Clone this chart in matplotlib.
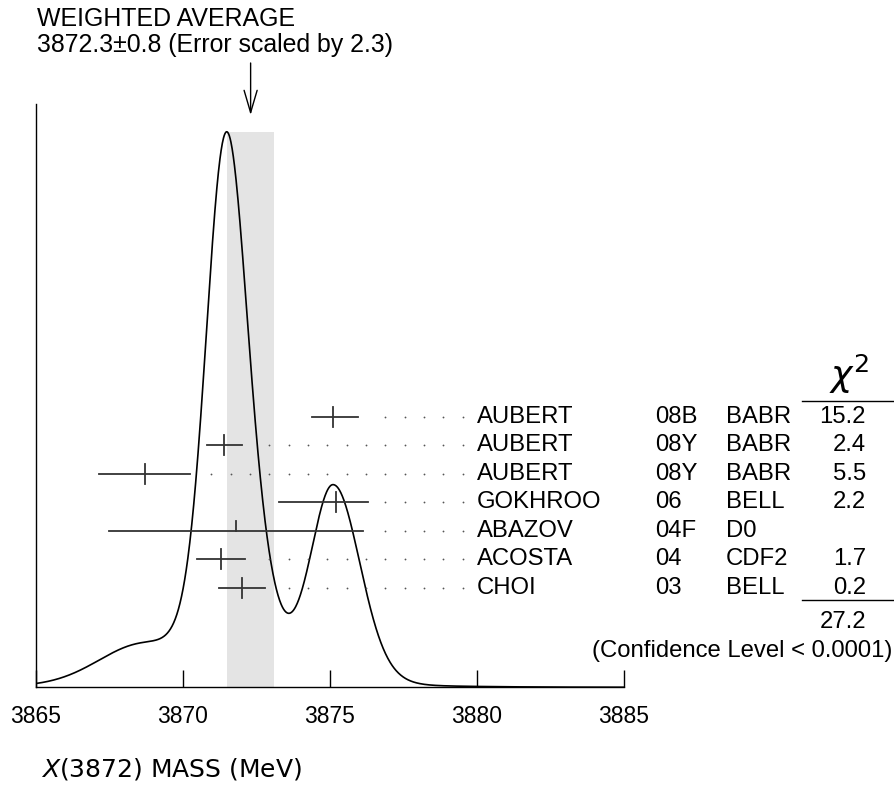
import numpy as np
import matplotlib
matplotlib.use('Agg')
import matplotlib.pyplot as plt
import matplotlib.transforms as mtransforms

plt.rcParams['font.family'] = ['Liberation Sans', 'DejaVu Sans']
plt.rcParams['mathtext.fontset'] = 'dejavusans'

#############################################################
# Measurements (X(3872) mass, MeV)
names = ['AUBERT', 'AUBERT', 'AUBERT', 'GOKHROO', 'ABAZOV', 'ACOSTA', 'CHOI']
years = ['08B', '08Y', '08Y', '06', '04F', '04', '03']
exps = ['BABR', 'BABR', 'BABR', 'BELL', 'D0', 'CDF2', 'BELL']
values = [3875.1, 3871.4, 3868.7, 3875.2, 3871.8, 3871.3, 3872.0]
err_lo = [0.71, 0.60, 1.55, 1.92, 4.31, 0.81, 0.78]
err_hi = [0.86, 0.60, 1.55, 1.10, 4.31, 0.81, 0.78]
chi2 = ['15.2', '2.4', '5.5', '2.2', '', '1.7', '0.2']
chi2_total = '27.2'
conf_level = '(Confidence Level < 0.0001)'

avg = 3872.3
avg_err = 0.8
err_scale = 2.3

xticks = [3865, 3870, 3875, 3880, 3885]

#############################################################
W, H = 895, 787
fig = plt.figure(figsize=(W / 100, H / 100), dpi=100)

def fx(px):
    return px / W

def fy(py):
    return 1 - py / H

ax_pos = [fx(36), fy(687.3), fx(588), 583.3 / H]
ax = fig.add_axes(ax_pos)

# ideogram: sum of (bifurcated) gaussians, area ~ 1/sigma
xg = np.linspace(3865, 3885, 1500)
ideo = np.zeros_like(xg)
for v, lo, hi in zip(values, err_lo, err_hi):
    s_mean = (lo + hi) / 2
    sig = np.where(xg < v, lo, hi)
    ideo += np.exp(-0.5 * ((xg - v) / sig) ** 2) / s_mean ** 2
ideo = ideo / ideo.max()

ax.fill_between([avg - avg_err, avg + avg_err], 0, 1, color='#e4e4e4', lw=0, zorder=0)
ax.plot(xg, ideo, color='black', lw=1.2, zorder=2)

ax.set_xlim(3865, 3885)
ax.set_ylim(0, 1.05)
ax.spines['top'].set_visible(False)
ax.spines['right'].set_visible(False)
ax.spines['left'].set_linewidth(1.0)
ax.spines['bottom'].set_linewidth(1.0)
ax.set_yticks([])
ax.set_xticks(xticks)
ax.set_xticklabels([str(t) for t in xticks])
ax.tick_params(axis='x', direction='in', length=12.5, width=1.0, pad=13, labelsize=16.5)

# x label placed below the tick labels
fig.text(fx(41), fy(777), r'$X(3872)$ MASS (MeV)', fontsize=18, family='DejaVu Sans',
         ha='left', va='baseline')

# measurement rows
ax2 = fig.add_axes(ax_pos, sharex=ax, frameon=False)
ax2.set_ylim(-3.5, 17.0)
ax2.axis('off')
n = len(values)
rows = np.arange(n)[::-1]
dot_last = 3879.51
dot_step = 0.6575
for i in range(n):
    y = rows[i]
    v = values[i]
    ax2.plot([v - err_lo[i], v + err_hi[i]], [y, y], color='#333333', lw=1.3, zorder=3)
    if names[i] == 'ABAZOV':
        ax2.plot([v, v], [y, y + 0.35], color='#333333', lw=1.3, zorder=3)
    else:
        ax2.plot([v, v], [y - 0.35, y + 0.35], color='#333333', lw=1.3, zorder=3)
    xs = dot_last - dot_step * np.arange(30)
    xs = xs[xs > v + err_hi[i] + 0.4]
    ax2.plot(xs, np.full(len(xs), y), ls='none', marker='o', ms=1.3, mec='none', color='#555555')

# table on the right
tr = mtransforms.blended_transform_factory(fig.transFigure, ax2.transData)
fs = 17.2
for i in range(n):
    y = rows[i]
    fig.text(fx(476.7), y, names[i], transform=tr, fontsize=fs, va='center', ha='left')
    fig.text(fx(655), y, years[i], transform=tr, fontsize=fs, va='center', ha='left')
    fig.text(fx(726), y, exps[i], transform=tr, fontsize=fs, va='center', ha='left')
    fig.text(fx(866), y, chi2[i], transform=tr, fontsize=fs, va='center', ha='right')

ax2.plot([3891.05, 3894.18], [6.57, 6.57], color='black', lw=1.0, clip_on=False)
ax2.plot([3891.05, 3894.18], [-0.44, -0.44], color='black', lw=1.0, clip_on=False)
fig.text(fx(849), 6.75, r'$\chi^2$', transform=tr, fontsize=26, ha='center', va='bottom')
fig.text(fx(866), -1.22, chi2_total, transform=tr, fontsize=fs, va='center', ha='right')
fig.text(fx(892), -2.22, conf_level, transform=tr, fontsize=fs, va='center', ha='right')

# weighted average header + arrow
fig.text(fx(36.7), fy(19), 'WEIGHTED AVERAGE', fontsize=17.9, va='center', ha='left')
fig.text(fx(36.7), fy(45), f'{avg}\u00b1{avg_err} (Error scaled by {err_scale})',
         fontsize=17.9, va='center', ha='left')
ax.annotate('', xy=(avg, 0.9811), xytext=(avg, 1.0703),
            xycoords=('data', 'axes fraction'), textcoords=('data', 'axes fraction'),
            arrowprops=dict(arrowstyle='->,head_length=1.6,head_width=0.47', color='black', lw=1.0,
                            shrinkA=0, shrinkB=0))

fig.savefig('out.png', dpi=100)
